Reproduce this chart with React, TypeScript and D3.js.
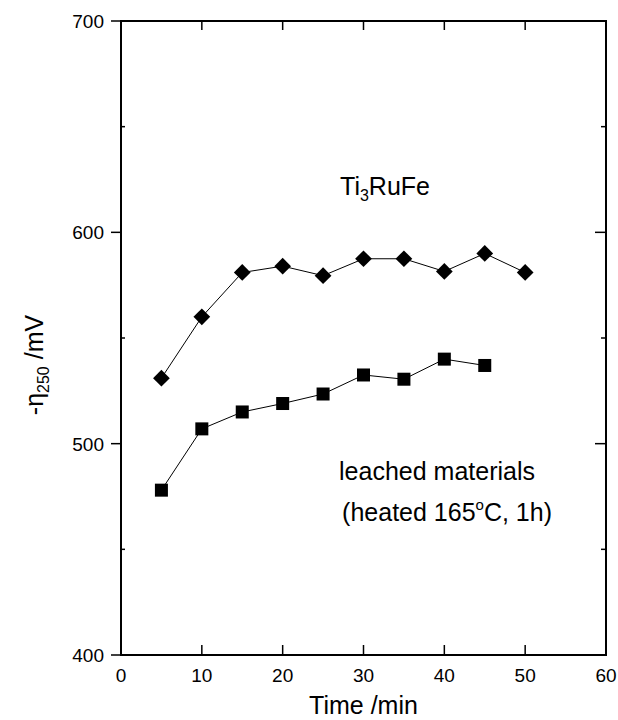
import React, { useEffect, useRef } from "react";
import * as d3 from "d3";

const times = [5, 10, 15, 20, 25, 30, 35, 40, 45, 50];
const ti3RuFe = [531, 560, 581, 584, 579.5, 587.5, 587.5, 581.5, 590, 581];
const leachedTimes = [5, 10, 15, 20, 25, 30, 35, 40, 45];
const leached = [478, 507, 515, 519, 523.5, 532.5, 530.5, 540, 537];
const xTicks = [0, 10, 20, 30, 40, 50, 60];
const yTicks = [400, 500, 600, 700];
const yMinor = [450, 550, 650];

const W = 618;
const H = 720;
const margin = { left: 121, right: 12, top: 21, bottom: 65 };
const FONT = "'Liberation Sans', Arial, sans-serif";

export default function App() {
  const ref = useRef<SVGSVGElement>(null);

  useEffect(() => {
    const svg = d3.select(ref.current);
    svg.selectAll("*").remove();

    const x = d3.scaleLinear().domain([0, 60]).range([margin.left, W - margin.right]);
    const y = d3.scaleLinear().domain([400, 700]).range([H - margin.bottom, margin.top]);

    const g = svg.append("g");

    // frame
    g.append("rect")
      .attr("x", x(0)).attr("y", y(700))
      .attr("width", x(60) - x(0)).attr("height", y(400) - y(700))
      .attr("fill", "none").attr("stroke", "#000").attr("stroke-width", 2);

    // x ticks: bottom and top point inward
    xTicks.forEach(t => {
      if (t > 0 && t < 60) {
        g.append("line").attr("x1", x(t)).attr("x2", x(t)).attr("y1", y(400)).attr("y2", y(400) - 10)
          .attr("stroke", "#000").attr("stroke-width", 1.5);
        g.append("line").attr("x1", x(t)).attr("x2", x(t)).attr("y1", y(700)).attr("y2", y(700) + 9)
          .attr("stroke", "#000").attr("stroke-width", 1.5);
      }
      g.append("text").attr("x", x(t)).attr("y", y(400) + 27)
        .attr("text-anchor", "middle").attr("font-family", FONT).attr("font-size", 19)
        .text(t);
    });

    // y ticks: left outward, right inward
    yTicks.forEach(t => {
      g.append("line").attr("x1", x(0)).attr("x2", x(0) - 10).attr("y1", y(t)).attr("y2", y(t))
        .attr("stroke", "#000").attr("stroke-width", 1.5);
      if (t > 400 && t < 700) {
        g.append("line").attr("x1", x(60)).attr("x2", x(60) - 11).attr("y1", y(t)).attr("y2", y(t))
          .attr("stroke", "#000").attr("stroke-width", 1.5);
      }
      g.append("text").attr("x", x(0) - 17).attr("y", y(t) + 7)
        .attr("text-anchor", "end").attr("font-family", FONT).attr("font-size", 19)
        .text(t);
    });
    yMinor.forEach(t => {
      g.append("line").attr("x1", x(60)).attr("x2", x(60) - 5).attr("y1", y(t)).attr("y2", y(t))
        .attr("stroke", "#000").attr("stroke-width", 1.5);
      g.append("line").attr("x1", x(0)).attr("x2", x(0) + 4).attr("y1", y(t)).attr("y2", y(t))
        .attr("stroke", "#000").attr("stroke-width", 1.5);
    });

    const line = d3.line<[number, number]>().x(d => x(d[0])).y(d => y(d[1]));

    const topPts: [number, number][] = times.map((t, i) => [t, ti3RuFe[i]]);
    const botPts: [number, number][] = leachedTimes.map((t, i) => [t, leached[i]]);

    g.append("path").attr("d", line(topPts)).attr("fill", "none").attr("stroke", "#000").attr("stroke-width", 1);
    g.append("path").attr("d", line(botPts)).attr("fill", "none").attr("stroke", "#000").attr("stroke-width", 1);

    const diamond = d3.symbol().type(d3.symbolSquare).size(140);
    g.selectAll(".dia").data(topPts).enter().append("path")
      .attr("d", diamond)
      .attr("transform", d => `translate(${x(d[0])},${y(d[1])}) rotate(45)`)
      .attr("fill", "#000");

    g.selectAll(".sq").data(botPts).enter().append("rect")
      .attr("x", d => x(d[0]) - 6.5).attr("y", d => y(d[1]) - 6.5)
      .attr("width", 13).attr("height", 13).attr("fill", "#000");

    // annotations
    const t1 = g.append("text").attr("x", 430).attr("y", 195).attr("text-anchor", "end")
      .attr("font-family", FONT).attr("font-size", 25);
    t1.append("tspan").text("Ti");
    t1.append("tspan").attr("font-size", 16).attr("dy", 6).text("3");
    t1.append("tspan").attr("dy", -6).text("RuFe");

    g.append("text").attr("x", 535).attr("y", 480).attr("text-anchor", "end")
      .attr("font-family", FONT).attr("font-size", 25).text("leached materials");
    const t2 = g.append("text").attr("x", 552).attr("y", 521).attr("text-anchor", "end")
      .attr("font-family", FONT).attr("font-size", 25);
    t2.append("tspan").text("(heated 165");
    t2.append("tspan").attr("font-size", 15).attr("dy", -11).text("o");
    t2.append("tspan").attr("dy", 11).text("C, 1h)");

    // axis titles
    g.append("text").attr("x", (x(0) + x(60)) / 2).attr("y", 714).attr("text-anchor", "middle")
      .attr("font-family", FONT).attr("font-size", 25).text("Time /min");

    const yt = g.append("text").attr("transform", `translate(43,365) rotate(-90)`)
      .attr("text-anchor", "middle").attr("font-family", FONT).attr("font-size", 25);
    yt.append("tspan").text("-η");
    yt.append("tspan").attr("font-size", 16).attr("dy", 6).text("250");
    yt.append("tspan").attr("dy", -6).text(" /mV");
  }, []);

  return (
    <svg ref={ref} width={W} height={H}
      style={{ position: "absolute", left: 0, top: 0, background: "#fff" }} />
  );
}
